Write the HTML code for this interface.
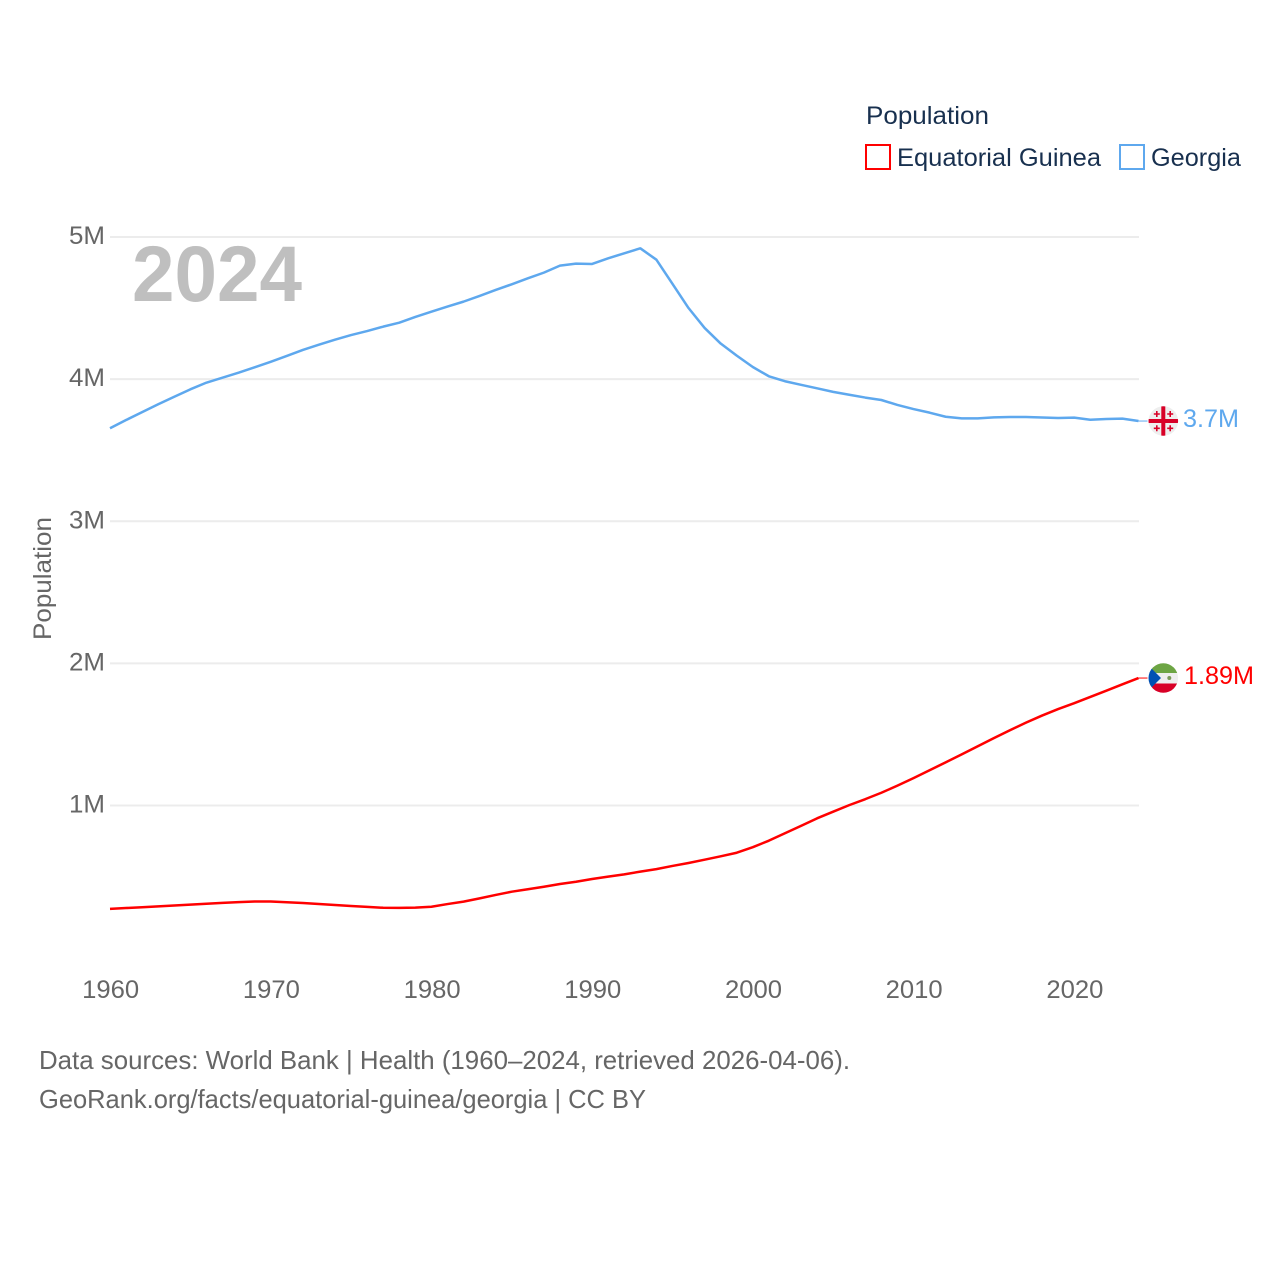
<!DOCTYPE html>
<html lang="en">
<head>
<meta charset="utf-8">
<title>Population: Equatorial Guinea vs Georgia</title>
<style>
html,body{margin:0;padding:0;background:#fff;}
svg{display:block;font-family:"Liberation Sans",sans-serif;}
</style>
</head>
<body>
<svg id="chart" xmlns="http://www.w3.org/2000/svg" width="1280" height="1280" viewBox="0 0 1280 1280">
  <rect width="1280" height="1280" fill="#fff"/>
  <g id="grid"></g>
  <g id="y-ticks"></g>
  <g id="x-ticks"></g>
  <text x="132" y="301" font-size="79" font-weight="700" fill="#bfbfbf" textLength="170" lengthAdjust="spacingAndGlyphs">2024</text>
  <text transform="translate(51,640) rotate(-90)" font-size="25" fill="#666" textLength="123" lengthAdjust="spacingAndGlyphs">Population</text>
  <g id="series"></g>

  <g>
    <text x="866" y="124" font-size="25" fill="#18304f" textLength="123" lengthAdjust="spacingAndGlyphs">Population</text>
    <rect x="866" y="145" width="24" height="24" fill="#fff" stroke="#ff0000" stroke-width="2"/>
    <text x="897" y="166" font-size="25" fill="#18304f" textLength="204" lengthAdjust="spacingAndGlyphs">Equatorial Guinea</text>
    <rect x="1120" y="145" width="24" height="24" fill="#fff" stroke="#5ea8ee" stroke-width="2"/>
    <text x="1151" y="166" font-size="25" fill="#18304f" textLength="90" lengthAdjust="spacingAndGlyphs">Georgia</text>
  </g>

  <defs>
    <clipPath id="clip-ge"><circle cx="1163.300" cy="421" r="14.800"/></clipPath>
    <clipPath id="clip-gq"><circle cx="1163.300" cy="678" r="14.800"/></clipPath>
  </defs>
  <g clip-path="url(#clip-ge)">
    <rect x="1148" y="406" width="31" height="30" fill="#eeeeee"/>
    <rect x="1161.300" y="406" width="4" height="30" fill="#d80027"/>
    <rect x="1148" y="419" width="31" height="4" fill="#d80027"/>
    <path fill="#d80027" d="M1156 411h1.600v2.200h2.200v1.600h-2.200v2.200h-1.600v-2.200h-2.200v-1.600h2.200z M1169.400 411h1.600v2.200h2.200v1.600h-2.200v2.200h-1.600v-2.200h-2.200v-1.600h2.200z M1156 425.300h1.600v2.200h2.200v1.600h-2.200v2.200h-1.600v-2.200h-2.200v-1.600h2.200z M1169.400 425.300h1.600v2.200h2.200v1.600h-2.200v2.200h-1.600v-2.200h-2.200v-1.600h2.200z"/>
  </g>
  <g clip-path="url(#clip-gq)">
    <rect x="1148" y="663" width="31" height="10" fill="#6da544"/>
    <rect x="1148" y="673" width="31" height="10.500" fill="#eeeeee"/>
    <rect x="1148" y="683.500" width="31" height="10" fill="#d80027"/>
    <path d="M1148 665L1161 678L1148 691z" fill="#0052b4"/>
    <circle cx="1169.300" cy="678" r="2" fill="#7a9a5a"/>
  </g>
  <text x="1183" y="427" font-size="25" fill="#5ea8ee" textLength="56" lengthAdjust="spacingAndGlyphs">3.7M</text>
  <text x="1184" y="684" font-size="25" fill="#ff0000" textLength="70" lengthAdjust="spacingAndGlyphs">1.89M</text>

  <g>
    <text x="39" y="1069" font-size="26" fill="#666" textLength="811" lengthAdjust="spacingAndGlyphs">Data sources: World Bank | Health (1960–2024, retrieved 2026-04-06).</text>
    <text x="39" y="1108" font-size="26" fill="#666" textLength="607" lengthAdjust="spacingAndGlyphs">GeoRank.org/facts/equatorial-guinea/georgia | CC BY</text>
  </g>
</svg>
<script>
const years = [1960,1961,1962,1963,1964,1965,1966,1967,1968,1969,1970,1971,1972,1973,1974,1975,1976,1977,1978,1979,1980,1981,1982,1983,1984,1985,1986,1987,1988,1989,1990,1991,1992,1993,1994,1995,1996,1997,1998,1999,2000,2001,2002,2003,2004,2005,2006,2007,2008,2009,2010,2011,2012,2013,2014,2015,2016,2017,2018,2019,2020,2021,2022,2023,2024];
const georgiaValues = [3.654,3.712,3.768,3.823,3.876,3.928,3.975,4.01,4.045,4.083,4.122,4.163,4.205,4.242,4.277,4.31,4.338,4.369,4.397,4.437,4.474,4.51,4.545,4.585,4.627,4.667,4.709,4.749,4.798,4.812,4.81,4.85,4.885,4.92,4.84,4.67,4.50,4.36,4.25,4.165,4.085,4.02,3.985,3.96,3.935,3.91,3.89,3.87,3.853,3.818,3.789,3.764,3.735,3.724,3.724,3.731,3.733,3.733,3.73,3.726,3.729,3.714,3.719,3.722,3.705];
const equatorialGuineaValues = [0.273,0.279,0.285,0.291,0.297,0.303,0.309,0.315,0.321,0.325,0.325,0.320,0.314,0.307,0.300,0.293,0.287,0.281,0.280,0.282,0.288,0.307,0.324,0.347,0.371,0.394,0.411,0.429,0.448,0.464,0.483,0.5,0.516,0.535,0.553,0.575,0.596,0.619,0.643,0.668,0.707,0.753,0.805,0.857,0.91,0.957,1.003,1.045,1.09,1.14,1.193,1.248,1.304,1.36,1.417,1.474,1.53,1.583,1.633,1.679,1.72,1.764,1.808,1.853,1.897];
const yTickValues = [1,2,3,4,5];
const yTickLabels = ['1M','2M','3M','4M','5M'];
const xTickValues = [1960,1970,1980,1990,2000,2010,2020];
const xTickLabels = ['1960','1970','1980','1990','2000','2010','2020'];

const NS = 'http://www.w3.org/2000/svg';
function xScale(year){ return 110 + (year - 1960) * 16.07; }
function yScale(value){ return 947.7 - value * 142.15; }

const gridGroup = document.getElementById('grid');
const yGroup = document.getElementById('y-ticks');
yTickValues.forEach(function(value, i){
  const line = document.createElementNS(NS, 'line');
  
  
  line.setAttribute('x1', 110);
  line.setAttribute('x2', 1139);
  line.setAttribute('y1', yScale(value));
  line.setAttribute('y2', yScale(value));
  line.setAttribute('stroke', '#ececec');
  line.setAttribute('stroke-width', 2);
  gridGroup.appendChild(line);
  const label = document.createElementNS(NS, 'text');
  
  
  label.setAttribute('x', 105);
  label.setAttribute('y', yScale(value) + 7);
  label.setAttribute('text-anchor', 'end');
  label.setAttribute('font-size', 25);
  label.setAttribute('fill', '#666');
  label.setAttribute('textLength', 36);
  label.setAttribute('lengthAdjust', 'spacingAndGlyphs');
  label.textContent = yTickLabels[i];
  yGroup.appendChild(label);
});

const xGroup = document.getElementById('x-ticks');
xTickValues.forEach(function(value, i){
  const label = document.createElementNS(NS, 'text');
  
  
  label.setAttribute('x', xScale(value) + 0.7);
  label.setAttribute('y', 998);
  label.setAttribute('text-anchor', 'middle');
  label.setAttribute('font-size', 25);
  label.setAttribute('fill', '#666');
  label.setAttribute('textLength', 57);
  label.setAttribute('lengthAdjust', 'spacingAndGlyphs');
  label.textContent = xTickLabels[i];
  xGroup.appendChild(label);
});

function linePath(values){
  return values.map(function(value, i){
    return (i ? 'L' : 'M') + xScale(years[i]).toFixed(2) + ' ' + yScale(value).toFixed(2);
  }).join('');
}

const seriesGroup = document.getElementById('series');
const georgiaLine = document.createElementNS(NS, 'path');


georgiaLine.setAttribute('d', linePath(georgiaValues));
georgiaLine.setAttribute('fill', 'none');
georgiaLine.setAttribute('stroke', '#5ea8ee');
georgiaLine.setAttribute('stroke-width', 2.5);
georgiaLine.setAttribute('stroke-linejoin', 'round');
seriesGroup.appendChild(georgiaLine);

const guineaLine = document.createElementNS(NS, 'path');


guineaLine.setAttribute('d', linePath(equatorialGuineaValues));
guineaLine.setAttribute('fill', 'none');
guineaLine.setAttribute('stroke', '#ff0000');
guineaLine.setAttribute('stroke-width', 2.5);
guineaLine.setAttribute('stroke-linejoin', 'round');
seriesGroup.appendChild(guineaLine);

const lastIndex = years.length - 1;
const georgiaLeader = document.createElementNS(NS, 'line');


georgiaLeader.setAttribute('x1', xScale(years[lastIndex]));
georgiaLeader.setAttribute('x2', xScale(years[lastIndex]) + 9);
georgiaLeader.setAttribute('y1', yScale(georgiaValues[lastIndex]));
georgiaLeader.setAttribute('y2', yScale(georgiaValues[lastIndex]));
georgiaLeader.setAttribute('stroke', '#5ea8ee');
georgiaLeader.setAttribute('stroke-width', 1);
seriesGroup.appendChild(georgiaLeader);

const guineaLeader = document.createElementNS(NS, 'line');


guineaLeader.setAttribute('x1', xScale(years[lastIndex]));
guineaLeader.setAttribute('x2', xScale(years[lastIndex]) + 9);
guineaLeader.setAttribute('y1', yScale(equatorialGuineaValues[lastIndex]));
guineaLeader.setAttribute('y2', yScale(equatorialGuineaValues[lastIndex]));
guineaLeader.setAttribute('stroke', '#ff0000');
guineaLeader.setAttribute('stroke-width', 1);
seriesGroup.appendChild(guineaLeader);
</script>
</body>
</html>
